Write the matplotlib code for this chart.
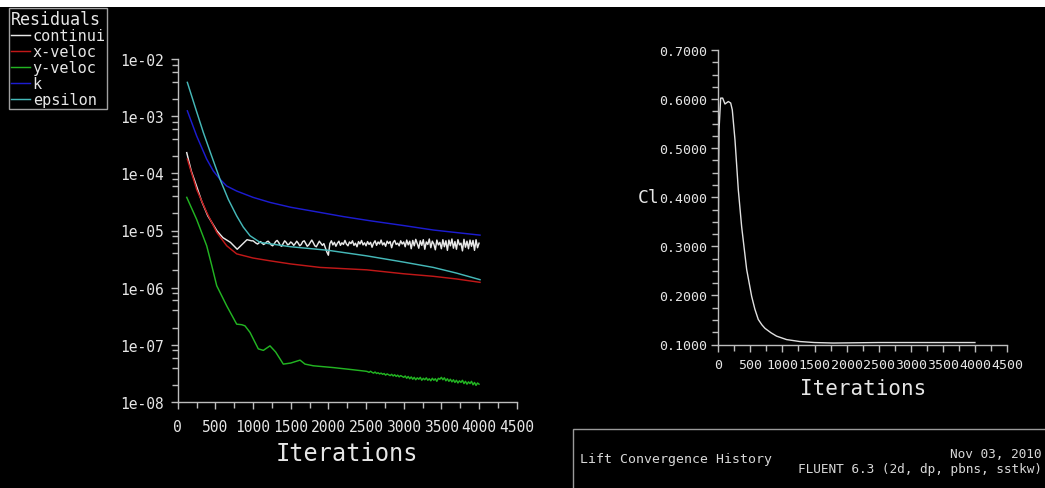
import numpy as np
import matplotlib
matplotlib.use("Agg")
import matplotlib.pyplot as plt
from matplotlib.ticker import MultipleLocator, LogLocator, FuncFormatter, NullFormatter
from matplotlib.patches import Rectangle

# ---- residual data ----
legend_labels = ["continui", "x-veloc", "y-veloc", "k", "epsilon"]
series_colors = ["#e8e8e8", "#c01818", "#22b422", "#1c1cd0", "#45b8b8"]

cont_iter = [120, 180, 250, 320, 400, 520, 600, 700, 790, 850, 920, 980]
cont_val = [2.3e-4, 1.1e-4, 6.0e-5, 3.2e-5, 1.8e-5, 9.9e-6, 7.5e-6, 6.2e-6, 4.7e-6, 5.6e-6, 6.9e-6, 6.6e-6]
# noisy part, iterations 1000..4000 every 20, in units of 1e-6
cont_noisy = [
    6.6, 6.3, 6.0, 5.8, 6.1, 6.4, 6.0, 5.7, 5.9, 6.3, 6.5, 6.1, 5.6, 5.4, 5.8, 6.4, 6.7, 6.2, 5.5, 5.3, 5.9, 6.6, 6.2, 5.6, 5.8, 6.3,
    6.0, 5.5, 5.9, 6.5, 6.0, 5.4, 5.7, 6.4, 6.6, 5.9, 5.3, 5.6, 6.2, 6.8, 6.1, 5.4, 5.2, 5.8, 6.5, 6.0, 5.5, 5.9, 5.0, 4.2, 3.7,
    5.9, 6.6, 5.6, 6.2, 5.3, 6.0, 6.5, 5.5, 6.1, 5.7, 6.7, 5.8, 5.4, 6.3, 5.9, 6.6, 5.5, 6.0, 5.2, 6.4, 5.8, 6.7, 5.6, 6.1, 5.4,
    6.4, 5.7, 6.2, 5.1, 6.0, 6.6, 5.5, 6.3, 5.8, 6.8, 5.6, 6.1, 5.3, 6.5, 5.9, 6.4, 5.0, 6.2, 6.7, 5.7, 6.0, 5.4, 6.6, 5.8, 6.3,
    5.2, 6.8, 5.6, 6.5, 4.8, 6.7, 5.4, 7.0, 5.9, 4.9, 6.6, 5.5, 6.9, 4.7, 6.3, 5.7, 7.1, 5.0, 6.5, 5.8, 4.6, 6.8, 5.6, 6.2, 4.8,
    6.9, 5.2, 6.6, 4.5, 6.8, 5.4, 7.1, 4.9, 6.4, 4.7, 6.9, 5.6, 6.0, 4.4, 7.0, 5.1, 6.5, 4.8, 6.8, 5.3, 6.7, 4.5, 6.9, 5.0, 6.0,
]

xvel_iter = [128, 252, 385, 518, 651, 783, 1000, 1225, 1500, 1890, 2509, 3000, 3393, 3700, 4013]
xvel_val = [1.77e-4, 5.2e-5, 2.07e-5, 9.3e-6, 5.4e-6, 3.9e-6, 3.3e-6, 2.95e-6, 2.6e-6, 2.26e-6, 2.05e-6, 1.75e-6, 1.58e-6, 1.42e-6, 1.24e-6]

yvel_iter = [120, 250, 385, 450, 518, 651, 783, 850, 893, 960, 1070, 1137, 1225, 1300, 1402, 1500, 1624, 1690, 1800, 2066, 2300, 2500]
yvel_val = [3.8e-5, 1.58e-5, 5.4e-6, 2.5e-6, 1.08e-6, 4.8e-7, 2.3e-7, 2.25e-7, 2.15e-7, 1.65e-7, 8.5e-8, 8.0e-8, 9.6e-8, 7.5e-8,
            4.6e-8, 4.8e-8, 5.4e-8, 4.6e-8, 4.3e-8, 4.0e-8, 3.7e-8, 3.45e-8]
# noisy part, iterations 2520..4000 every 20, in units of 1e-8
yvel_noisy = [
    3.4, 3.3, 3.45, 3.3, 3.2, 3.35, 3.15, 3.25, 3.1, 3.2, 3.05, 3.15, 2.95, 3.1, 3.0, 2.9, 3.05, 2.85, 3.0, 2.8, 2.95, 2.75, 2.9, 2.8, 2.7,
    2.85, 2.6, 2.8, 2.55, 2.75, 2.5, 2.7, 2.45, 2.65, 2.5, 2.7, 2.4, 2.6, 2.45, 2.65, 2.4, 2.55, 2.35, 2.6, 2.4, 2.55, 2.3, 2.6, 2.5, 2.7,
    2.45, 2.65, 2.35, 2.55, 2.3, 2.5, 2.25, 2.45, 2.2, 2.4, 2.15, 2.35, 2.2, 2.4, 2.1, 2.3, 2.05, 2.25, 2.1, 2.3, 2.0, 2.2, 1.95, 2.15, 2.05,
]

k_iter = [128, 252, 385, 473, 561, 650, 783, 1000, 1225, 1500, 1890, 2200, 2554, 3000, 3393, 3700, 4013]
k_val = [1.24e-3, 4.5e-4, 1.77e-4, 1.1e-4, 7.9e-5, 6.0e-5, 4.9e-5, 3.8e-5, 3.1e-5, 2.55e-5, 2.07e-5, 1.75e-5, 1.48e-5,
         1.22e-5, 1.02e-5, 9.2e-6, 8.3e-6]

eps_iter = [128, 252, 340, 451, 561, 672, 783, 870, 960, 1093, 1500, 2000, 2509, 3000, 3393, 3700, 4013]
eps_val = [3.9e-3, 1.19e-3, 5.2e-4, 2.0e-4, 7.9e-5, 3.5e-5, 1.8e-5, 1.15e-5, 8.1e-6, 6.2e-6, 5.2e-6, 4.5e-6, 3.6e-6, 2.8e-6,
           2.26e-6, 1.8e-6, 1.38e-6]

# ---- lift coefficient data ----
cl_iter = [1, 5, 11, 37, 68, 104, 156, 193, 218, 260, 312, 364, 442, 520, 570, 623, 680, 727, 820, 909, 1065, 1273, 1500,
           1791, 2500, 3000, 3500, 4000]
cl_val = [0.29, 0.47, 0.537, 0.602, 0.602, 0.59, 0.595, 0.592, 0.578, 0.517, 0.415, 0.34, 0.253, 0.198, 0.172, 0.151,
          0.140, 0.133, 0.124, 0.117, 0.110, 0.106, 0.104, 0.103, 0.104, 0.104, 0.104, 0.104]

# build full series
cont_x = cont_iter + list(range(1000, 4001, 20))
cont_y = cont_val + [v * 1e-6 for v in cont_noisy]
yvel_x = yvel_iter + list(range(2520, 4001, 20))
yvel_y = yvel_val + [v * 1e-8 for v in yvel_noisy]

W, H = 1045, 489
fig = plt.figure(figsize=(W / 100, H / 100), dpi=100, facecolor="black")
MONO = "DejaVu Sans Mono"
AX_COL = "#bdbdbd"
TXT_COL = "#e6e6e6"

def style_axes(ax, fsize):
    ax.set_facecolor("black")
    for s in ["top", "right"]:
        ax.spines[s].set_visible(False)
    for s in ["left", "bottom"]:
        ax.spines[s].set_color(AX_COL)
        ax.spines[s].set_linewidth(1)
    ax.tick_params(which="both", direction="out", color=AX_COL, width=1, labelcolor=TXT_COL, labelsize=fsize)
    ax.tick_params(which="major", length=5, pad=3)
    ax.tick_params(which="minor", length=4)
    for lab in ax.get_xticklabels() + ax.get_yticklabels():
        lab.set_family(MONO)

# ---- left: residuals ----
ax1 = fig.add_axes([177.7 / W, 1 - 403 / H, 339 / W, 343 / H])
ax1.set_yscale("log")
series_x = [cont_x, xvel_iter, yvel_x, k_iter, eps_iter]
series_y = [cont_y, xvel_val, yvel_y, k_val, eps_val]
for xs, ys, c, lab in zip(series_x, series_y, series_colors, legend_labels):
    ax1.plot(xs, ys, color=c, lw=1.05, label=lab)
ax1.set_xlim(0, 4500)
ax1.set_ylim(1e-8, 1e-2)
ax1.xaxis.set_major_locator(MultipleLocator(500))
ax1.xaxis.set_minor_locator(MultipleLocator(250))
ax1.yaxis.set_major_locator(LogLocator(base=10, numticks=10))
ax1.yaxis.set_minor_locator(LogLocator(base=10, subs=(2, 4, 6, 8), numticks=10))
ax1.yaxis.set_minor_formatter(NullFormatter())
ax1.yaxis.set_major_formatter(FuncFormatter(lambda v, p: "%.0e" % v))
ax1.xaxis.set_major_formatter(FuncFormatter(lambda v, p: "%d" % v))
style_axes(ax1, 10.5)
ax1.tick_params(axis="x", which="major", pad=7)
ax1.tick_params(axis="y", which="major", pad=5)
ax1.set_xlabel("Iterations", family=MONO, fontsize=17, color=TXT_COL, labelpad=5)

leg = ax1.legend(loc="upper left", bbox_to_anchor=(9 / W, 1 - 9 / H), bbox_transform=fig.transFigure,
                 title="Residuals", prop={"family": MONO, "size": 11}, frameon=True, fancybox=False,
                 facecolor="black", edgecolor="#a0a0a0", framealpha=1, borderpad=0.1, labelspacing=0.06,
                 handlelength=1.3, handletextpad=0.15, borderaxespad=0)
leg.get_title().set_color(TXT_COL)
leg.get_title().set_family(MONO)
leg.get_title().set_fontsize(12)
leg._legend_box.align = "left"
for t in leg.get_texts():
    t.set_color(TXT_COL)

# ---- right: lift coefficient ----
ax2 = fig.add_axes([718.3 / W, 1 - 345.5 / H, 288.7 / W, 294.5 / H])
ax2.plot(cl_iter, cl_val, color="#e0e0e0", lw=1.0)
ax2.set_xlim(0, 4500)
ax2.set_ylim(0.1, 0.7)
ax2.xaxis.set_major_locator(MultipleLocator(500))
ax2.xaxis.set_minor_locator(MultipleLocator(250))
ax2.yaxis.set_major_locator(MultipleLocator(0.1))
ax2.yaxis.set_minor_locator(MultipleLocator(0.025))
ax2.yaxis.set_major_formatter(FuncFormatter(lambda v, p: "%.4f" % v))
ax2.xaxis.set_major_formatter(FuncFormatter(lambda v, p: "%d" % v))
style_axes(ax2, 9.5)
ax2.tick_params(axis="x", which="major", pad=5)
ax2.set_xlabel("Iterations", family=MONO, fontsize=15, color=TXT_COL, labelpad=5)
ax2.set_ylabel("Cl", family=MONO, fontsize=13, color=TXT_COL, rotation=0, ha="right", va="center")
ax2.yaxis.set_label_coords(-0.205, 0.5)

# ---- header strip and info box ----
fig.patches.append(Rectangle((0, 1 - 8 / H), 1, 8 / H, transform=fig.transFigure, facecolor="white",
                             edgecolor="none", zorder=5))
fig.patches.append(Rectangle((573 / W, -0.05), 0.5, (489 - 430) / H + 0.05, transform=fig.transFigure,
                             facecolor="black", edgecolor="#9a9a9a", lw=1, zorder=5))
fig.text(580 / W, 1 - 460 / H, "Lift Convergence History", family=MONO, fontsize=9.5, color="#d8d8d8",
         va="center", ha="left", zorder=6)
fig.text(1042 / W, 1 - 455 / H, "Nov 03, 2010", family=MONO, fontsize=9.2, color="#d8d8d8",
         va="center", ha="right", zorder=6)
fig.text(1042 / W, 1 - 470 / H, "FLUENT 6.3 (2d, dp, pbns, sstkw)", family=MONO, fontsize=9.2, color="#d8d8d8",
         va="center", ha="right", zorder=6)

fig.savefig("out.png", dpi=100, facecolor="black")
